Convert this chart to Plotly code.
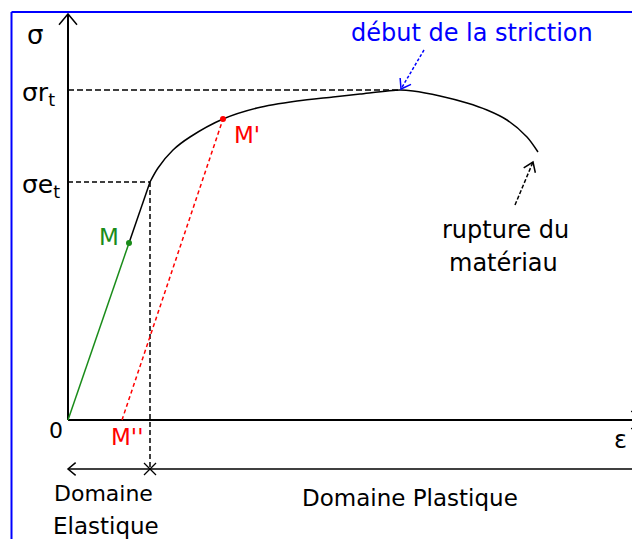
import numpy as np
import plotly.graph_objects as go

# ---- data (strain eps in arbitrary units, stress sigma in arbitrary units) ----
elastic_eps = [0.0, 0.61]
elastic_sig = [0.0, 177.0]

hard_eps = [0.61, 0.82]          # straight part from M up to the yield point
hard_sig = [177, 238]

curve_eps = [0.82, 0.90, 1.05, 1.22, 1.55, 1.89, 2.29, 2.65, 2.92, 3.32,
             3.45, 3.72, 3.99, 4.19, 4.39, 4.59, 4.70]
curve_sig = [238, 252, 270, 283, 301, 312, 319, 323, 326, 330,
             329, 324, 317, 310, 300, 283, 268]

sigma_e = 238.0
eps_e = 0.82
sigma_r = 330.0
eps_r = 3.32

M = (0.61, 177.0)
M1 = (1.55, 301.0)     # M'
M2 = (0.54, 0.0)       # M''

domain_level = -49.0
eps_end = 5.74
sig_top = 406.0

striction_tail = (3.56, 370.0)
striction_tip = (3.33, 331.0)
rupture_tail = (4.47, 215.0)
rupture_tip = (4.65, 258.0)

# ---- layout constants ----
W, H = 632, 539
XR = [-0.68, 5.64]
YR = [-119.0, 420.0]
sx = W / (XR[1] - XR[0])   # px per eps unit
sy = H / (YR[1] - YR[0])   # px per sigma unit

FONT = "DejaVu Sans, sans-serif"
BLUE = "#0000ff"
RED = "#ff0000"
GREEN = "#1a8c1a"

fig = go.Figure()


def line(xs, ys, color="black", width=1.5, dash="solid", shape="linear"):
    fig.add_trace(go.Scatter(x=xs, y=ys, mode="lines",
                             line=dict(color=color, width=width, dash=dash, shape=shape,
                                       smoothing=0.8 if shape == "spline" else None),
                             hoverinfo="skip", showlegend=False, cliponaxis=False))


def head(tip, tail, color="black", length=11, angle=32, width=1.5):
    # open V arrowhead at tip, pointing from tail to tip (computed in pixel space)
    d = np.array([(tip[0] - tail[0]) * sx, (tip[1] - tail[1]) * sy])
    d = d / np.linalg.norm(d)
    xs, ys = [], []
    for s in (1, -1):
        a = np.radians(angle) * s
        r = np.array([d[0] * np.cos(a) - d[1] * np.sin(a),
                      d[0] * np.sin(a) + d[1] * np.cos(a)])
        p = np.array(tip) - np.array([r[0] * length / sx, r[1] * length / sy])
        xs += [p[0], tip[0]]
        ys += [p[1], tip[1]]
    line([xs[0], xs[1], xs[2]], [ys[0], ys[1], ys[2]], color=color, width=width)


# axes
line([0, 0], [0, sig_top], width=2)
line([0, eps_end], [0, 0], width=2)
head((0, sig_top), (0, 0), length=14, angle=40)
head((eps_end, 0), (0, 0), length=14, angle=40)

# dashed guides
line([0, eps_r], [sigma_r, sigma_r], dash="6px,3px")
line([0, eps_e], [sigma_e, sigma_e], dash="5px,3px")
line([eps_e, eps_e], [sigma_e, domain_level], dash="5px,3px")

# domain line
line([0, eps_end], [domain_level, domain_level], width=1.5)
head((0, domain_level), (1, domain_level), length=10, angle=40)
xm = 6 / sx
ym = 6 / sy
line([eps_e - xm, eps_e + xm], [domain_level - ym, domain_level + ym], width=1.2)
line([eps_e - xm, eps_e + xm], [domain_level + ym, domain_level - ym], width=1.2)

# curves
line(elastic_eps, elastic_sig, color=GREEN, width=1.5)
line(hard_eps, hard_sig, color="black", width=1.5)
line(curve_eps, curve_sig, color="black", width=1.5, shape="spline")
line([M2[0], M1[0]], [M2[1], M1[1]], color=RED, width=1.5, dash="4px,3px")

# points
fig.add_trace(go.Scatter(x=[M[0]], y=[M[1]], mode="markers",
                         marker=dict(color=GREEN, size=6), showlegend=False, hoverinfo="skip"))
fig.add_trace(go.Scatter(x=[M1[0]], y=[M1[1]], mode="markers",
                         marker=dict(color=RED, size=6), showlegend=False, hoverinfo="skip"))

# annotation arrows
line([striction_tail[0], striction_tip[0]], [striction_tail[1], striction_tip[1]],
     color=BLUE, width=1.5, dash="3px,2px")
head(striction_tip, striction_tail, color=BLUE, length=11, angle=35)
line([rupture_tail[0], rupture_tip[0]], [rupture_tail[1], rupture_tip[1]],
     color="black", width=1.5, dash="4px,2px")
head(rupture_tip, rupture_tail, color="black", length=11, angle=35)


def text(x, y, s, color="black", size=23, xanchor="center"):
    fig.add_annotation(x=x, y=y, text=s, showarrow=False, xanchor=xanchor,
                       yanchor="middle", font=dict(family=FONT, size=size, color=color))


text(-0.33, 385, "σ", size=26)
text(-0.30, 326, "σr<sub>t</sub>", size=25)
text(-0.27, 234, "σe<sub>t</sub>", size=25)
text(-0.12, -10, "0", size=22)
text(0.59, -17, "M''", color=RED, size=23)
text(5.52, -20, "ε", size=24)
text(0.41, 183, "M", color=GREEN, size=23)
text(1.79, 285, "M'", color=RED, size=23)
text(4.04, 387, "début de la striction", color=BLUE, size=24)
text(4.37, 190, "rupture du", size=24)
text(4.35, 157, "matériau", size=24)
text(0.35, -73, "Domaine", size=22)
text(0.38, -106, "Elastique", size=23)
text(3.42, -78, "Domaine Plastique", size=23)

# blue frame
fig.add_shape(type="line", xref="paper", yref="paper", x0=11.5 / W, x1=11.5 / W,
              y0=0, y1=1 - 12 / H, line=dict(color=BLUE, width=2))
fig.add_shape(type="line", xref="paper", yref="paper", x0=11.5 / W, x1=1,
              y0=1 - 12 / H, y1=1 - 12 / H, line=dict(color=BLUE, width=2))

fig.update_layout(
    width=W, height=H, margin=dict(l=0, r=0, t=0, b=0),
    paper_bgcolor="white", plot_bgcolor="white",
    xaxis=dict(range=XR, visible=False, fixedrange=True),
    yaxis=dict(range=YR, visible=False, fixedrange=True),
    showlegend=False,
)

fig.write_html("out.html", config={"displayModeBar": False},
               post_script="document.body.style.margin='0px';document.body.style.overflow='hidden';")
